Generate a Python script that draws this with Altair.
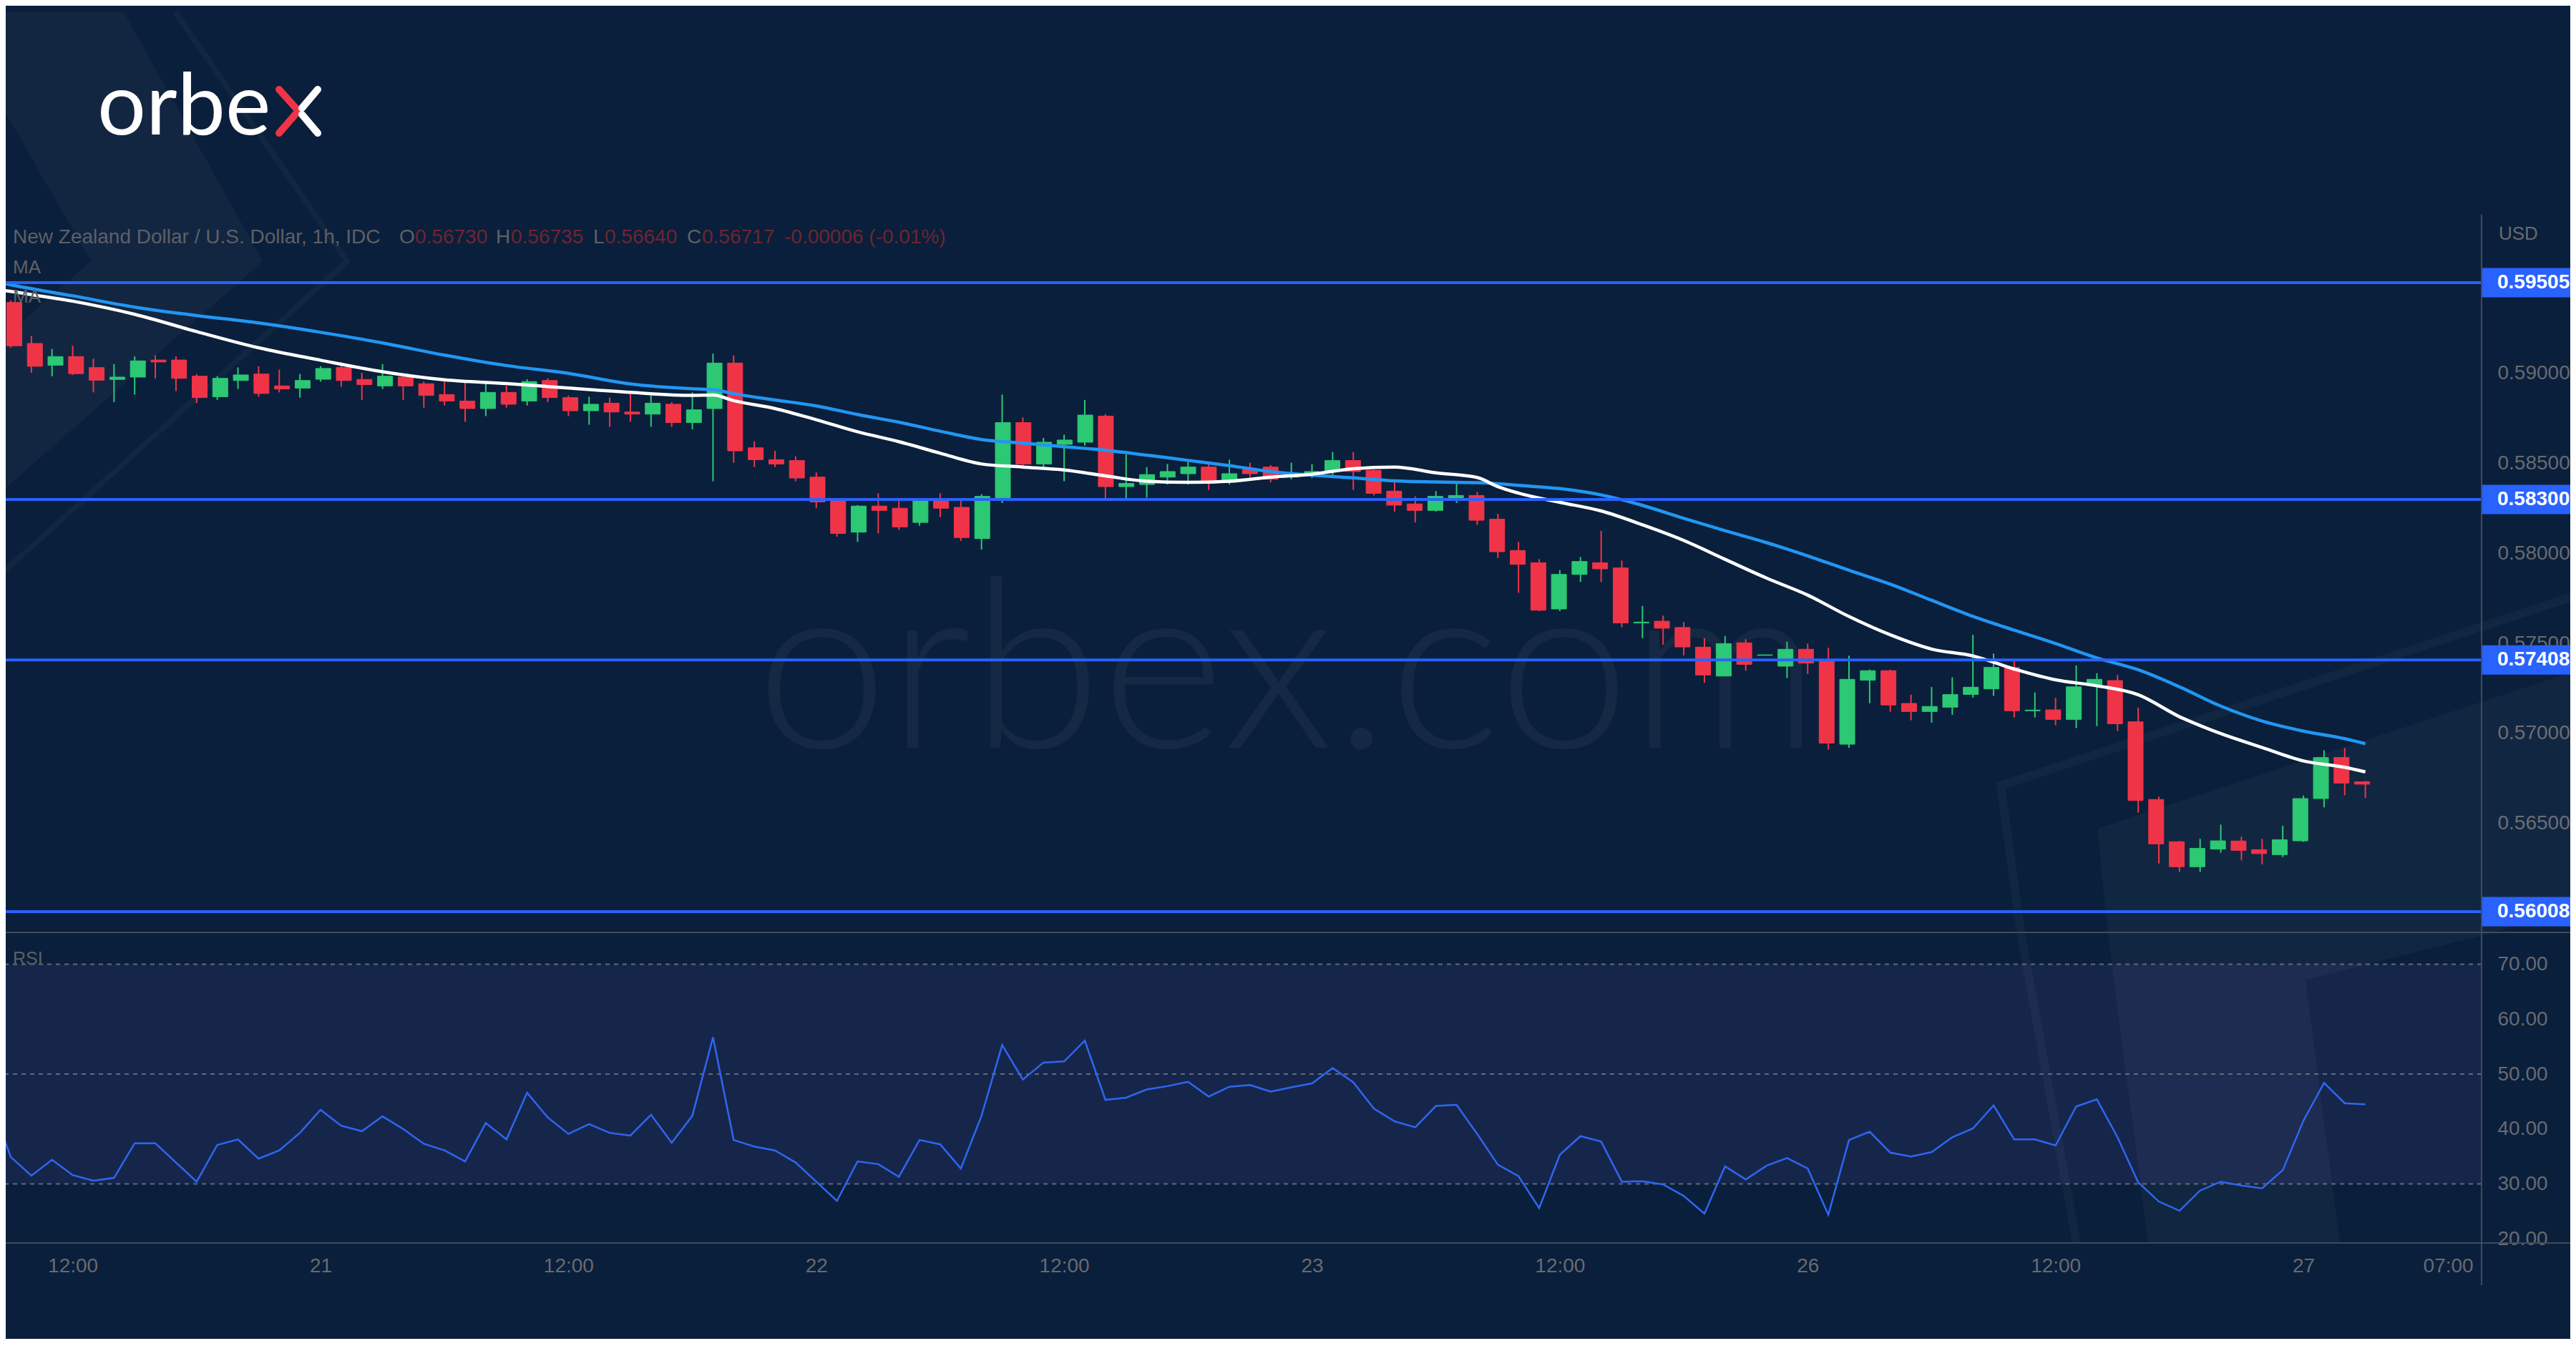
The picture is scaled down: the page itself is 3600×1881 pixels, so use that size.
import math
import altair as alt
import pandas as pd

# ---------------- data (hour index: 0 = 21 Sep 00:00) ----------------
hours = list(range(-15, 100))
opens = [
    0.59395, 0.59167, 0.59046, 0.59094, 0.59033, 0.58967, 0.58980, 0.59075, 0.59075, 0.58985,
    0.58871, 0.58961, 0.58997, 0.58931, 0.58919, 0.58968, 0.59033, 0.58967, 0.58931, 0.58980,
    0.58943, 0.58883, 0.58847, 0.58805, 0.58895, 0.58847, 0.58961, 0.58866, 0.58793, 0.58835,
    0.58786, 0.58774, 0.58829, 0.58727, 0.58805, 0.59058, 0.58587, 0.58521, 0.58516, 0.58424,
    0.58298, 0.58118, 0.58263, 0.58251, 0.58172, 0.58292, 0.58256, 0.58082, 0.58310, 0.58727,
    0.58497, 0.58606, 0.58618, 0.58763, 0.58371, 0.58383, 0.58424, 0.58443, 0.58480, 0.58395,
    0.58467, 0.58480, 0.58424, 0.58438, 0.58455, 0.58516, 0.58462, 0.58346, 0.58275, 0.58239,
    0.58310, 0.58322, 0.58190, 0.58016, 0.57948, 0.57691, 0.57883, 0.57948, 0.57919, 0.57613,
    0.57623, 0.57588, 0.57479, 0.57318, 0.57503, 0.57433, 0.57373, 0.57467, 0.57402, 0.56939,
    0.57295, 0.57348, 0.57166, 0.57121, 0.57145, 0.57216, 0.57247, 0.57366, 0.57125, 0.57130,
    0.57077, 0.57265, 0.57293, 0.57064, 0.56632, 0.56397, 0.56258, 0.56356, 0.56401, 0.56353,
    0.56325, 0.56402, 0.56637, 0.56865, 0.56730,
]
highs = [
    0.59406, 0.59209, 0.59136, 0.59154, 0.59082, 0.59052, 0.59095, 0.59101, 0.59095, 0.58997,
    0.58985, 0.59034, 0.59040, 0.59021, 0.58997, 0.59040, 0.59063, 0.59004, 0.59052, 0.58985,
    0.58955, 0.58955, 0.58949, 0.58949, 0.58931, 0.58968, 0.58973, 0.58878, 0.58871, 0.58866,
    0.58902, 0.58878, 0.58841, 0.58895, 0.59111, 0.59101, 0.58623, 0.58570, 0.58540, 0.58450,
    0.58305, 0.58268, 0.58334, 0.58292, 0.58298, 0.58334, 0.58298, 0.58329, 0.58883, 0.58756,
    0.58642, 0.58660, 0.58853, 0.58774, 0.58552, 0.58480, 0.58497, 0.58509, 0.58497, 0.58521,
    0.58504, 0.58491, 0.58504, 0.58497, 0.58564, 0.58564, 0.58467, 0.58395, 0.58317, 0.58346,
    0.58401, 0.58341, 0.58220, 0.58064, 0.57968, 0.57907, 0.57980, 0.58125, 0.57960, 0.57708,
    0.57654, 0.57618, 0.57528, 0.57540, 0.57523, 0.57436, 0.57509, 0.57499, 0.57475, 0.57431,
    0.57354, 0.57354, 0.57215, 0.57257, 0.57311, 0.57547, 0.57443, 0.57406, 0.57227, 0.57197,
    0.57377, 0.57334, 0.57324, 0.57142, 0.56648, 0.56402, 0.56413, 0.56492, 0.56426, 0.56413,
    0.56486, 0.56654, 0.56906, 0.56919, 0.56735,
]
lows = [
    0.59143, 0.59004, 0.58985, 0.58992, 0.58895, 0.58841, 0.58883, 0.58973, 0.58902, 0.58835,
    0.58853, 0.58914, 0.58871, 0.58895, 0.58866, 0.58955, 0.58926, 0.58853, 0.58914, 0.58853,
    0.58810, 0.58822, 0.58732, 0.58763, 0.58810, 0.58822, 0.58841, 0.58763, 0.58715, 0.58703,
    0.58732, 0.58703, 0.58703, 0.58690, 0.58401, 0.58504, 0.58480, 0.58480, 0.58401, 0.58251,
    0.58093, 0.58064, 0.58111, 0.58130, 0.58154, 0.58202, 0.58069, 0.58021, 0.58280, 0.58485,
    0.58473, 0.58401, 0.58599, 0.58305, 0.58305, 0.58310, 0.58383, 0.58383, 0.58353, 0.58383,
    0.58424, 0.58395, 0.58412, 0.58419, 0.58424, 0.58353, 0.58322, 0.58232, 0.58172, 0.58232,
    0.58280, 0.58159, 0.57974, 0.57781, 0.57679, 0.57679, 0.57841, 0.57841, 0.57589, 0.57529,
    0.57492, 0.57433, 0.57281, 0.57318, 0.57348, 0.57433, 0.57307, 0.57330, 0.56909, 0.56919,
    0.57167, 0.57120, 0.57072, 0.57059, 0.57102, 0.57198, 0.57208, 0.57088, 0.57088, 0.57045,
    0.57029, 0.57040, 0.57012, 0.56559, 0.56276, 0.56229, 0.56229, 0.56336, 0.56294, 0.56271,
    0.56312, 0.56396, 0.56588, 0.56655, 0.56640,
]
closes = [
    0.59154, 0.59040, 0.59094, 0.58999, 0.58963, 0.58980, 0.59070, 0.59064, 0.58973, 0.58866,
    0.58973, 0.58992, 0.58889, 0.58914, 0.58961, 0.59028, 0.58961, 0.58938, 0.58985, 0.58931,
    0.58878, 0.58847, 0.58805, 0.58895, 0.58829, 0.58955, 0.58866, 0.58793, 0.58829, 0.58786,
    0.58774, 0.58835, 0.58727, 0.58798, 0.59058, 0.58570, 0.58521, 0.58497, 0.58419, 0.58286,
    0.58111, 0.58263, 0.58239, 0.58147, 0.58292, 0.58251, 0.58088, 0.58317, 0.58727, 0.58497,
    0.58618, 0.58630, 0.58769, 0.58371, 0.58389, 0.58438, 0.58455, 0.58480, 0.58389, 0.58443,
    0.58443, 0.58412, 0.58438, 0.58455, 0.58516, 0.58455, 0.58334, 0.58268, 0.58239, 0.58317,
    0.58322, 0.58184, 0.58009, 0.57939, 0.57684, 0.57883, 0.57955, 0.57914, 0.57613, 0.57618,
    0.57584, 0.57480, 0.57324, 0.57498, 0.57383, 0.57436, 0.57467, 0.57390, 0.56945, 0.57300,
    0.57348, 0.57157, 0.57121, 0.57149, 0.57215, 0.57256, 0.57366, 0.57125, 0.57129, 0.57077,
    0.57258, 0.57300, 0.57053, 0.56626, 0.56385, 0.56258, 0.56360, 0.56402, 0.56349, 0.56331,
    0.56408, 0.56637, 0.56865, 0.56723, 0.56717,
]

ma_hours = [-15.5, -15, -12, -9, -6, -3, 0, 3, 6, 9, 12, 15, 18, 19, 20, 22, 24, 26, 28, 30,
            32, 34, 36, 38, 40, 42, 44, 46, 48, 50, 52, 54, 56, 57, 58, 60, 62, 64, 66, 68,
            70, 72, 74, 76, 78, 80, 82, 84, 86, 88, 90, 92, 94, 96, 98, 99]
ma_fast = [0.59465, 0.59456, 0.59402, 0.59329, 0.59233, 0.59143, 0.59074, 0.59010, 0.58965, 0.58944,
           0.58919, 0.58895, 0.58878, 0.58880, 0.58849, 0.58805, 0.58743, 0.58676, 0.58621, 0.58557,
           0.58497, 0.58480, 0.58464, 0.58431, 0.58401, 0.58395, 0.58401, 0.58424, 0.58440, 0.58471,
           0.58480, 0.58448, 0.58422, 0.58371, 0.58335, 0.58284, 0.58236, 0.58159, 0.58072, 0.57967,
           0.57863, 0.57768, 0.57649, 0.57547, 0.57468, 0.57430, 0.57357, 0.57297, 0.57264, 0.57214,
           0.57092, 0.56998, 0.56921, 0.56846, 0.56811, 0.56785]
ma_slow = [0.59505, 0.59493, 0.59432, 0.59369, 0.59322, 0.59281, 0.59229, 0.59170, 0.59102, 0.59044,
           0.59001, 0.58942, 0.58915, 0.58910, 0.58888, 0.58853, 0.58820, 0.58772, 0.58729, 0.58679,
           0.58633, 0.58613, 0.58593, 0.58573, 0.58546, 0.58517, 0.58488, 0.58455, 0.58435, 0.58420,
           0.58403, 0.58397, 0.58393, 0.58387, 0.58378, 0.58360, 0.58325, 0.58267, 0.58195, 0.58126,
           0.58060, 0.57986, 0.57906, 0.57829, 0.57739, 0.57650, 0.57573, 0.57499, 0.57419, 0.57353,
           0.57258, 0.57151, 0.57068, 0.57012, 0.56970, 0.56942]

rsi_hours = list(range(-16, 100))
rsi_values = [
    45.3, 34.9, 31.5, 34.4, 31.6, 30.6, 31.1, 37.4, 37.4, 33.9,
    30.4, 37.1, 38.1, 34.6, 36.1, 39.3, 43.5, 40.6, 39.6, 42.3,
    40.0, 37.3, 36.1, 34.1, 41.1, 38.1, 46.6, 42.1, 39.1, 40.9,
    39.3, 38.8, 42.6, 37.5, 42.4, 56.7, 38.0, 36.8, 36.1, 33.9,
    30.4, 26.9, 34.1, 33.6, 31.3, 38.0, 37.2, 32.8, 42.4, 55.3,
    49.0, 52.1, 52.3, 56.1, 45.3, 45.7, 47.2, 47.8, 48.6, 45.9,
    47.7, 48.0, 46.8, 47.6, 48.3, 51.1, 48.5, 43.7, 41.4, 40.3,
    44.2, 44.4, 39.1, 33.5, 31.4, 25.6, 35.3, 38.7, 37.7, 30.4,
    30.5, 29.9, 27.8, 24.6, 33.2, 30.8, 33.3, 34.7, 32.8, 24.4,
    38.0, 39.5, 35.7, 35.0, 35.8, 38.5, 40.1, 44.3, 38.1, 38.1,
    37.0, 44.1, 45.4, 38.5, 30.3, 26.8, 25.1, 28.8, 30.4, 29.7,
    29.2, 32.5, 41.5, 48.4, 44.7, 44.5,
]

levels = [0.59505, 0.58300, 0.57408, 0.56008]
price_ticks = [0.590, 0.585, 0.580, 0.575, 0.570, 0.565]
rsi_ticks = [70, 60, 50, 40, 30, 20]
rsi_guides = [70, 50, 30]
rsi_band = [30, 70]
time_ticks = [-12, 0, 12, 24, 36, 48, 60, 72, 84, 96, 103]
time_labels = ["12:00", "21", "12:00", "22", "12:00", "23", "12:00", "26", "12:00", "27", "07:00"]

legend_title = "New Zealand Dollar / U.S. Dollar, 1h, IDC"
legend_keys = ["O", "H", "L", "C"]
legend_vals = ["0.56730", "0.56735", "0.56640", "0.56717"]
legend_change = "-0.00006 (-0.01%)"

# ---------------- style / layout ----------------
BG = "#0a1f3b"
GREEN = "#2cc873"
RED = "#f03448"
LEVEL_BLUE = "#2962ff"
MA_BLUE = "#2196f3"
RSI_BLUE = "#2f66f0"
BAND = "#16264b"
TXT = "#686a71"
DIM = "#5e6067"
DIMRED = "#6e2530"
SEP = "#434a57"
FONT = "Liberation Sans"

W = 3460
H_TOP = 1295
H_RSI = 434
H_RSI_FULL = 568
RIGHT = 3584          # rightmost drawable x (plot coords)
X_DOMAIN = [-15.243, 104.625]
P_DOMAIN = [0.55893, 0.610445]
R_DOMAIN = [19.25, 75.80]
PX_PER_PRICE = H_TOP / (P_DOMAIN[1] - P_DOMAIN[0])
BOX_HALF = 20.5 / PX_PER_PRICE
LINE_HALF = 2.0 / PX_PER_PRICE

# decorative brand shapes (page pixel geometry)
DECO_TL = [(0, 17), (173, 17), (367, 365), (0, 689), (0, 477), (127, 365), (0, 144)]
DECO_BR = [(2931, 1158), (3592, 940), (3592, 1268), (3222, 1390), (3271, 1881), (3003, 1881)]
DECO_TL_LINE = [(245, 17), (485, 365), (0, 804)]
DECO_BR_LINE = [(3640, 819), (2796, 1098), (2906, 1900)]

xs = alt.Scale(domain=X_DOMAIN, nice=False, zero=False)
ys = alt.Scale(domain=P_DOMAIN, nice=False, zero=False)
rs = alt.Scale(domain=R_DOMAIN, nice=False, zero=False)

price_axis = alt.Axis(orient="right", values=price_ticks, format=".5f", labelColor=TXT,
                      labelFont=FONT, labelFontSize=28, labelPadding=22, labelAlign="left",
                      domain=False, ticks=False, grid=False, title=None, labelOverlap=False)
rsi_axis = alt.Axis(orient="right", values=rsi_ticks, format=".2f", labelColor=TXT,
                    labelFont=FONT, labelFontSize=28, labelPadding=22, labelAlign="left",
                    domain=False, ticks=False, grid=False, title=None, labelOverlap=False)
label_expr = " : ".join(f"datum.value == {t} ? '{l}'" for t, l in zip(time_ticks, time_labels)) + " : ''"
time_axis = alt.Axis(orient="bottom", values=time_ticks, labelExpr=label_expr, labelColor=TXT,
                     labelFont=FONT, labelFontSize=28, labelPadding=18, domain=False, ticks=False,
                     grid=False, title=None, labelFlush=False, labelOverlap=False)


def txt(s, x, y, color, size, font=FONT, weight="normal", align="left",
        baseline="alphabetic", opacity=1.0):
    return alt.Chart(pd.DataFrame({"t": [s]})).mark_text(
        align=align, baseline=baseline, font=font, fontSize=size, fontWeight=weight,
        color=color, opacity=opacity
    ).encode(text="t:N", x=alt.value(x), y=alt.value(y))


def seg(x1, y1, x2, y2, color, width, cap="round"):
    return alt.Chart(pd.DataFrame({"k": [0]})).mark_rule(
        color=color, strokeWidth=width, strokeCap=cap
    ).encode(x=alt.value(x1), y=alt.value(y1), x2=alt.value(x2), y2=alt.value(y2))


def box(x1, y1, x2, y2, color):
    return alt.Chart(pd.DataFrame({"k": [0]})).mark_rect(color=color).encode(
        x=alt.value(x1), y=alt.value(y1), x2=alt.value(x2), y2=alt.value(y2))


def clip_poly(poly, xmin, xmax, ymin, ymax):
    def clip(pts, inside, inter):
        out = []
        for i in range(len(pts)):
            cur, prev = pts[i], pts[i - 1]
            if inside(cur):
                if not inside(prev):
                    out.append(inter(prev, cur))
                out.append(cur)
            elif inside(prev):
                out.append(inter(prev, cur))
        return out

    def ix(p, q, x):
        t = (x - p[0]) / (q[0] - p[0])
        return (x, p[1] + t * (q[1] - p[1]))

    def iy(p, q, y):
        t = (y - p[1]) / (q[1] - p[1])
        return (p[0] + t * (q[0] - p[0]), y)

    pts = list(poly)
    for inside, inter in [
        (lambda p: p[0] >= xmin, lambda p, q: ix(p, q, xmin)),
        (lambda p: p[0] <= xmax, lambda p, q: ix(p, q, xmax)),
        (lambda p: p[1] >= ymin, lambda p, q: iy(p, q, ymin)),
        (lambda p: p[1] <= ymax, lambda p, q: iy(p, q, ymax)),
    ]:
        if pts:
            pts = clip(pts, inside, inter)
    return pts


def spans(poly):
    rows = []
    for y in sorted(set(p[1] for p in poly)):
        cuts = []
        for i in range(len(poly)):
            p, q = poly[i - 1], poly[i]
            if min(p[1], q[1]) - 1e-6 <= y <= max(p[1], q[1]) + 1e-6:
                if abs(q[1] - p[1]) < 1e-9:
                    cuts += [p[0], q[0]]
                else:
                    t = (y - p[1]) / (q[1] - p[1])
                    cuts.append(p[0] + t * (q[0] - p[0]))
        if cuts:
            rows.append((y, min(cuts), max(cuts)))
    return rows


def band_poly(pts, w):
    def nrm(a, b):
        dx, dy = b[0] - a[0], b[1] - a[1]
        L = math.hypot(dx, dy)
        return (-dy / L, dx / L)
    left, right = [], []
    n = len(pts)
    for i, p in enumerate(pts):
        if i == 0:
            nx, ny = nrm(pts[0], pts[1]); k = 1.0
        elif i == n - 1:
            nx, ny = nrm(pts[-2], pts[-1]); k = 1.0
        else:
            n1, n2 = nrm(pts[i - 1], p), nrm(p, pts[i + 1])
            sx, sy = n1[0] + n2[0], n1[1] + n2[1]
            L = math.hypot(sx, sy)
            nx, ny = sx / L, sy / L
            k = 1.0 / (nx * n1[0] + ny * n1[1])
        d = w / 2 * k
        left.append((p[0] + nx * d, p[1] + ny * d))
        right.append((p[0] - nx * d, p[1] - ny * d))
    return left + right[::-1]


def deco_area(poly, ox, oy, w, h, opacity):
    local = clip_poly(poly, ox, ox + RIGHT, oy, oy + h)
    rows = [(y - oy, a - ox, b - ox) for y, a, b in spans(local)]
    df = pd.DataFrame(rows, columns=["py", "x1", "x2"])
    return alt.Chart(df).mark_area(orient="horizontal", color="#ffffff", opacity=opacity,
                                   interpolate="linear").encode(
        y=alt.Y("py:Q", scale=alt.Scale(domain=[0, h], reverse=True, nice=False, zero=False),
                axis=None, sort=None),
        x=alt.X("x1:Q", scale=alt.Scale(domain=[0, w], nice=False, zero=False), axis=None,
                stack=None),
        x2="x2:Q",
    )


# ---------------- price pane ----------------
cd = pd.DataFrame({"h": hours, "o": opens, "hi": highs, "lo": lows, "c": closes})
cd["col"] = [GREEN if c >= o else RED for o, c in zip(opens, closes)]

ma_df = pd.DataFrame({"h": ma_hours, "fast": ma_fast, "slow": ma_slow})
lv = pd.DataFrame({"v": levels, "lab": [f"{v:.5f}" for v in levels]})
lv["b0"] = lv["v"] - BOX_HALF
lv["b1"] = lv["v"] + BOX_HALF
lv["l0"] = lv["v"] - LINE_HALF
lv["l1"] = lv["v"] + LINE_HALF

TOP_OX, TOP_OY = 8, 8
deco_top = [
    deco_area(DECO_TL, TOP_OX, TOP_OY, W, H_TOP, 0.035),
    deco_area(DECO_BR, TOP_OX, TOP_OY, W, H_TOP, 0.03),
    deco_area(band_poly(DECO_TL_LINE, 8), TOP_OX, TOP_OY, W, H_TOP, 0.03),
    deco_area(band_poly(DECO_BR_LINE, 12), TOP_OX, TOP_OY, W, H_TOP, 0.03),
]

watermark = txt("orbex.com", 1792, 1037, "#ffffff", 330, font="Lato", weight=300,
                align="center", opacity=0.045)

wicks = alt.Chart(cd).mark_rule(strokeWidth=2, clip=True).encode(
    x=alt.X("h:Q", scale=xs, axis=None),
    y=alt.Y("lo:Q", scale=ys, axis=price_axis),
    y2="hi:Q",
    color=alt.Color("col:N", scale=None),
)
bodies = alt.Chart(cd).mark_bar(size=21, strokeWidth=1, clip=True).encode(
    x=alt.X("h:Q", scale=xs, axis=None),
    y=alt.Y("o:Q", scale=ys, axis=None),
    y2="c:Q",
    color=alt.Color("col:N", scale=None),
    stroke=alt.Stroke("col:N", scale=None),
)
ma_slow_line = alt.Chart(ma_df).mark_line(color=MA_BLUE, strokeWidth=4.5, interpolate="monotone",
                                          clip=True).encode(
    x=alt.X("h:Q", scale=xs, axis=None), y=alt.Y("slow:Q", scale=ys, axis=None))
ma_fast_line = alt.Chart(ma_df).mark_line(color="#ffffff", strokeWidth=4.5, interpolate="monotone",
                                          clip=True).encode(
    x=alt.X("h:Q", scale=xs, axis=None), y=alt.Y("fast:Q", scale=ys, axis=None))

level_lines = alt.Chart(lv).mark_rect(color=LEVEL_BLUE).encode(
    y=alt.Y("l0:Q", scale=ys, axis=None), y2="l1:Q", x=alt.value(0), x2=alt.value(W))
level_boxes = alt.Chart(lv).mark_rect(color=LEVEL_BLUE).encode(
    y=alt.Y("b0:Q", scale=ys, axis=None), y2="b1:Q", x=alt.value(W), x2=alt.value(RIGHT))
level_text = alt.Chart(lv).mark_text(align="left", baseline="middle", font=FONT, fontSize=28,
                                     fontWeight="bold", color="#ffffff").encode(
    y=alt.Y("v:Q", scale=ys, axis=None), x=alt.value(3482), text="lab:N")

axis_line_top = box(W - 1, 292, W + 1, H_TOP, SEP)

logo = [
    txt("orbe", 128, 180, "#ffffff", 120, font="Lato"),
    seg(382, 117, 409, 147, RED, 10),
    seg(409, 147, 382, 178, RED, 10),
    seg(436, 117, 414, 143, "#ffffff", 10),
    seg(414, 152, 436, 178, "#ffffff", 10),
]
legend_layers = [txt(legend_title, 10, 332, DIM, 28)]
key_x = [550, 685, 821, 952]
val_x = [572, 706, 837, 973]
for k, v, kx, vx in zip(legend_keys, legend_vals, key_x, val_x):
    legend_layers.append(txt(k, kx, 332, DIM, 28))
    legend_layers.append(txt(v, vx, 332, DIMRED, 28))
legend_layers.append(txt(legend_change, 1088, 332, DIMRED, 28))
legend_layers.append(txt("MA", 10, 374, DIM, 26))
legend_layers.append(txt("MA", 10, 415, DIM, 26))
legend_layers.append(txt("USD", 3484, 327, TXT, 26))

top = alt.layer(
    *deco_top, watermark, wicks, bodies, ma_slow_line, ma_fast_line, level_lines, level_boxes,
    level_text, axis_line_top, *logo, *legend_layers
).resolve_scale(x="independent", y="independent").properties(width=W, height=H_TOP)

# ---------------- RSI pane ----------------
RSI_OX, RSI_OY = 8, 8 + H_TOP
rsi_df = pd.DataFrame({"h": rsi_hours, "rsi": rsi_values})
band_df = pd.DataFrame({"lo": [rsi_band[0]], "hi": [rsi_band[1]]})
guide_df = pd.DataFrame({"v": rsi_guides})

band = alt.Chart(band_df).mark_rect(color=BAND).encode(
    y=alt.Y("lo:Q", scale=rs, axis=rsi_axis), y2="hi:Q", x=alt.value(0), x2=alt.value(W))
deco_bot = [
    deco_area(DECO_BR, RSI_OX, RSI_OY, W, H_RSI_FULL, 0.03),
    deco_area(band_poly(DECO_BR_LINE, 12), RSI_OX, RSI_OY, W, H_RSI_FULL, 0.03),
]
guides = alt.Chart(guide_df).mark_rule(color="#787b86", strokeWidth=2, strokeDash=[6, 6],
                                       opacity=0.8, clip=True).encode(
    y=alt.Y("v:Q", scale=rs, axis=None))
rsi_line = alt.Chart(rsi_df).mark_line(color=RSI_BLUE, strokeWidth=2.5, clip=True).encode(
    x=alt.X("h:Q", scale=xs, axis=time_axis),
    y=alt.Y("rsi:Q", scale=rs, axis=None))
sep_top = box(0, -1, RIGHT, 1, SEP)
sep_bot = box(0, H_RSI - 1, RIGHT, H_RSI + 1, SEP)
axis_line_rsi = box(W - 1, 0, W + 1, H_RSI + 59, SEP)
rsi_label = txt("RSI", 10, 45, DIM, 25)
filler = box(0, H_RSI_FULL - 2, 4, H_RSI_FULL, BG)

bottom = alt.layer(
    band, *deco_bot, guides, rsi_line, sep_top, sep_bot, axis_line_rsi, rsi_label, filler
).resolve_scale(x="independent", y="independent").properties(width=W, height=H_RSI)

chart = alt.vconcat(top, bottom, spacing=0, bounds="flush").properties(
    padding=0, background=BG
).configure_view(strokeWidth=0)

chart.save("out.html", embed_options={"renderer": "svg", "actions": False})
